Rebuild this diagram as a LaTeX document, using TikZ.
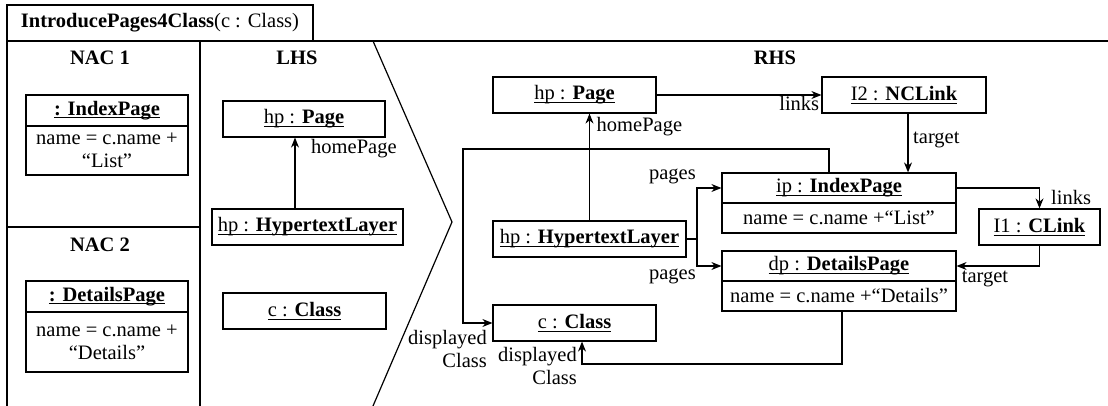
\documentclass[tikz,border=0pt]{standalone}
\usepackage{fontspec}
\setmainfont{Liberation Serif}
\usetikzlibrary{arrows.meta,calc}
\newcommand\myul[1]{\setbox0\hbox{#1}\rlap{\rule[-3pt]{\wd0}{0.9pt}}\box0}
\begin{document}
\begin{tikzpicture}[x=1pt,y=-1pt,
  font=\fontsize{20.5}{23}\selectfont,
  box/.style={draw, line width=1.2pt, inner sep=0pt, align=center},
  arr/.style={line width=1.2pt, -{Stealth[length=10pt,width=8pt]}},
  ln/.style={line width=1.2pt},
  lbl/.style={inner sep=1pt, align=right}]
\useasboundingbox (0,0) rectangle (1108,406);
% frame
\node[box, minimum width=306pt, minimum height=36pt] (title) at (160,23)
  {\textbf{IntroducePages4Class}(c : Class)};
\draw[ln] (7,406) -- (7,41) -- (1108,41);
\draw[ln] (200,41) -- (200,406);
\draw[ln] (7,227) -- (200,227);
\draw[ln] (373,41) -- (452,222) -- (373,406);
% section labels
\node (nac1) at (100,58) {\textbf{NAC 1}};
\node (nac2) at (100,245) {\textbf{NAC 2}};
\node (lhs) at (297,58) {\textbf{LHS}};
\node (rhs) at (775,58) {\textbf{RHS}};
% NAC boxes
\node[box, minimum width=162pt, minimum height=31pt] (n1h) at (107,110.5) {\myul{\textbf{: IndexPage}}};
\node[box, minimum width=162pt, minimum height=49pt] (n1b) at (107,150.5) {name = c.name +\\“List”};
\node[box, minimum width=162pt, minimum height=31pt] (n2h) at (107,296.5) {\myul{\textbf{: DetailsPage}}};
\node[box, minimum width=162pt, minimum height=60pt] (n2b) at (107,342) {name = c.name +\\“Details”};
% LHS
\node[box, minimum width=162pt, minimum height=36pt] (lpage) at (304,119) {\myul{hp : \textbf{Page}}};
\node[box, minimum width=191pt, minimum height=36pt] (lhtl) at (307.5,227) {\myul{hp : \textbf{HypertextLayer}}};
\node[box, minimum width=163pt, minimum height=36pt] (lclass) at (304.5,311) {\myul{c : \textbf{Class}}};
\coordinate (xl) at (295,0);
\draw[arr] (lhtl.north -| xl) -- (lpage.south -| xl);
\node[lbl, anchor=north west] (lhp) at (310,138) {homePage};
% RHS
\node[box, minimum width=163pt, minimum height=36pt] (rpage) at (574.5,95) {\myul{hp : \textbf{Page}}};
\node[box, minimum width=164pt, minimum height=36pt] (ncl) at (904,95) {\myul{I2 : \textbf{NCLink}}};
\node[box, minimum width=234pt, minimum height=30pt] (ip) at (839,188) {\myul{ip : \textbf{IndexPage}}};
\node[box, minimum width=234pt, minimum height=30pt] (ipb) at (839,218) {name = c.name +“List”};
\node[box, minimum width=121pt, minimum height=36pt] (cl) at (1039.5,227) {\myul{I1 : \textbf{CLink}}};
\node[box, minimum width=234pt, minimum height=30pt] (dp) at (839,266) {\myul{dp : \textbf{DetailsPage}}};
\node[box, minimum width=234pt, minimum height=30pt] (dpb) at (839,296) {name = c.name +“Details”};
\node[box, minimum width=193pt, minimum height=36pt] (rhtl) at (589.5,239) {\myul{hp : \textbf{HypertextLayer}}};
\node[box, minimum width=163pt, minimum height=36pt] (rc) at (574.5,323) {\myul{c : \textbf{Class}}};
% coordinates
\coordinate (xt) at (908,0);
\coordinate (jn) at (697,239);
\coordinate (dc1) at (829,149);
\coordinate (dc2) at (463,149);
\coordinate (xc) at (842,364);
\coordinate (xc2) at (582,364);
% connectors
\draw[arr] (rpage) -- (ncl);
\node[lbl, anchor=north east] (llinks2) at ($(ncl.west)+(-1,0)$) {links};
\draw[arr] (ncl.south -| xt) -- (ip.north -| xt);
\node[lbl, anchor=west] (ltarget2) at (912,140) {target};
\draw[arr] (ip.east) -| (cl.north);
\node[lbl, anchor=south west] (llinks1) at (1050,206) {links};
\draw[arr] (cl.south) |- (dp.east);
\node[lbl, anchor=north west] (ltarget1) at ($(dp.east)+(4,4)$) {target};
\draw[ln] (rhtl.east) -- (jn);
\draw[arr] (jn) |- (ip.west);
\draw[arr] (jn) |- (dp.west);
\node[lbl, anchor=south east] (lpages1) at (697,185) {pages};
\node[lbl, anchor=north east] (lpages2) at (697,268) {pages};
\draw[arr] (rhtl.north) -- (rpage.south -| rhtl.north);
\node[lbl, anchor=north west] (lhp2) at ($(rpage.south -| rhtl.north)+(6,2)$) {homePage};
\draw[arr] (ip.north -| dc1) -- (dc1) -- (dc2) -- (dc2 |- rc.west) -- (rc.west);
\node[lbl, anchor=north east] (ldc1) at (488,329) {displayed\\Class};
\draw[arr] (dpb.south -| xc) -- (xc) -- (xc2) -- (rc.south -| xc2);
\node[lbl, anchor=north east] (ldc2) at (578,346) {displayed\\Class};
\end{tikzpicture}
\end{document}
